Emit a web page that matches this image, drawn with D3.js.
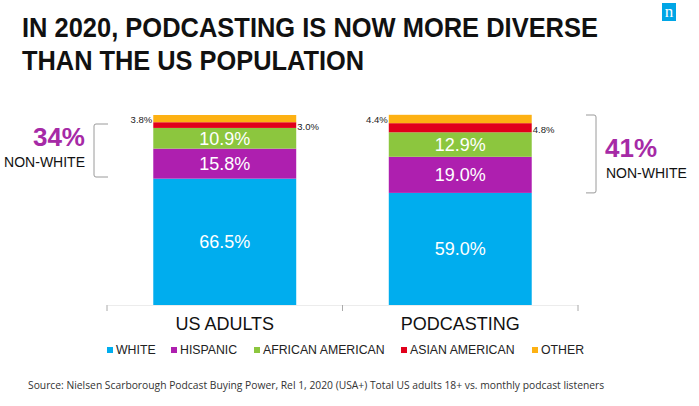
<!DOCTYPE html>
<html>
<head>
<meta charset="utf-8">
<script src="https://cdn.jsdelivr.net/npm/d3@7"></script>
<style>
  html, body { margin: 0; padding: 0; background: #fff; }
  svg { display: block; }
</style>
</head>
<body>
<div id="chart"></div>
<script>
// ---- Data ----
const categories = ["US ADULTS", "PODCASTING"];
const seriesNames = ["WHITE", "HISPANIC", "AFRICAN AMERICAN", "ASIAN AMERICAN", "OTHER"];
const white = [66.5, 59.0];
const hispanic = [15.8, 19.0];
const africanAmerican = [10.9, 12.9];
const asianAmerican = [3.0, 4.8];
const other = [3.8, 4.4];
const nonWhiteTotals = ["34%", "41%"];
const nonWhiteLabel = "NON-WHITE";
const titleLines = ["IN 2020, PODCASTING IS NOW MORE DIVERSE", "THAN THE US POPULATION"];
const sourceText = "Source: Nielsen Scarborough Podcast Buying Power, Rel 1, 2020 (USA+) Total US adults 18+ vs. monthly podcast listeners";

const colors = ["#00adee", "#ae1faf", "#8cc63e", "#e1001b", "#fdb113"];

const W = 699, H = 406;
const svg = d3.select("#chart").append("svg").attr("width", W).attr("height", H);
const FONT = "'Liberation Sans', Arial, sans-serif";

// table built from the arrays
const seriesArrays = [white, hispanic, africanAmerican, asianAmerican, other];
const rows = categories.map((c, i) => {
  const r = { cat: c };
  seriesNames.forEach((s, j) => r[s] = seriesArrays[j][i]);
  return r;
});
const stacked = d3.stack().keys(seriesNames)(rows);

// scales
const axisLeft = 107, axisRight = 578, baseY = 305, topY = 115;
const x0 = d3.scaleBand().domain(categories).range([axisLeft, axisRight]).padding(0);
const xBar = d3.scaleBand().domain(categories).range([axisLeft, axisRight])
  .paddingInner(0.393).paddingOuter(0.1965);
const y = d3.scaleLinear().domain([0, 100]).range([baseY, topY]);
const color = d3.scaleOrdinal().domain(seriesNames).range(colors);

// ---- Title ----
svg.append("g").selectAll("text").data(titleLines).join("text")
  .attr("x", 22).attr("y", (d, i) => 37 + i * 33)
  .attr("font-family", "'Liberation Sans Narrow', 'Arial Narrow', 'Liberation Sans', sans-serif")
  .attr("font-weight", "bold").attr("font-size", 28).attr("fill", "#111")
  .attr("textLength", (d, i) => i === 0 ? 576 : 342)
  .attr("lengthAdjust", "spacingAndGlyphs")
  .text(d => d);

// ---- Logo ----
const logo = svg.append("g");
logo.append("rect").attr("x", 662).attr("y", 3).attr("width", 14).attr("height", 18).attr("fill", "#00a6e6");
logo.append("text").attr("x", 669).attr("y", 17).attr("text-anchor", "middle")
  .attr("font-family", "'Liberation Serif', serif").attr("font-size", 17).attr("fill", "#fff").text("n");

// ---- Bars ----
const gBars = svg.append("g");
stacked.forEach((layer, li) => {
  gBars.append("g").attr("fill", color(layer.key))
    .selectAll("rect").data(layer).join("rect")
    .attr("x", d => xBar(d.data.cat))
    .attr("width", xBar.bandwidth())
    .attr("y", d => y(d[1]))
    .attr("height", d => y(d[0]) - y(d[1]));
});

// inside labels (first three series)
stacked.slice(0, 3).forEach(layer => {
  gBars.append("g").selectAll("text").data(layer).join("text")
    .attr("x", d => xBar(d.data.cat) + xBar.bandwidth() / 2)
    .attr("y", d => (y(d[0]) + y(d[1])) / 2)
    .attr("dy", "0.35em")
    .attr("text-anchor", "middle")
    .attr("font-family", FONT).attr("font-size", 18).attr("fill", "#fff")
    .text(d => (d[1] - d[0]).toFixed(1) + "%");
});

// small outside labels: OTHER on the left, ASIAN AMERICAN on the right
const otherLayer = stacked[4], asianLayer = stacked[3];
gBars.append("g").selectAll("text").data(otherLayer).join("text")
  .attr("x", d => xBar(d.data.cat) - 1)
  .attr("y", d => (y(d[0]) + y(d[1])) / 2 + 1)
  .attr("dy", "0.35em").attr("text-anchor", "end")
  .attr("font-family", FONT).attr("font-size", 9.5).attr("fill", "#222")
  .text(d => (d[1] - d[0]).toFixed(1) + "%");
gBars.append("g").selectAll("text").data(asianLayer).join("text")
  .attr("x", d => xBar(d.data.cat) + xBar.bandwidth() + 1)
  .attr("y", d => (y(d[0]) + y(d[1])) / 2 + 2)
  .attr("dy", "0.35em").attr("text-anchor", "start")
  .attr("font-family", FONT).attr("font-size", 9.5).attr("fill", "#222")
  .text(d => (d[1] - d[0]).toFixed(1) + "%");

// ---- Axis ----
const axis = svg.append("g").attr("transform", `translate(0,${baseY})`)
  .call(d3.axisBottom(x0).tickSize(0).tickSizeOuter(0).tickPadding(12));
axis.select(".domain").attr("stroke", "#ececec");
axis.selectAll("text").attr("font-family", FONT).attr("font-size", 18).attr("fill", "#111");
const boundaries = [x0(categories[0]), x0(categories[1]), x0(categories[1]) + x0.bandwidth()];
svg.append("g").selectAll("line").data(boundaries).join("line")
  .attr("x1", d => d).attr("x2", d => d)
  .attr("y1", baseY).attr("y2", baseY + 6)
  .attr("stroke", "#aaa").attr("stroke-width", 1);

// ---- Brackets and non-white callouts ----
const purple = "#a62aa6";
// left bracket (US adults)
const lb = { x: 94, arm: 14, y1: 124, y2: 177 };
svg.append("path")
  .attr("d", `M${lb.x + lb.arm},${lb.y1} L${lb.x + 2},${lb.y1} Q${lb.x},${lb.y1} ${lb.x},${lb.y1 + 2} L${lb.x},${lb.y2 - 2} Q${lb.x},${lb.y2} ${lb.x + 2},${lb.y2} L${lb.x + lb.arm},${lb.y2}`)
  .attr("fill", "none").attr("stroke", "#9a9a9a").attr("stroke-width", 1);
// right bracket (Podcasting)
const rb = { x: 596, arm: 10, y1: y(100), y2: y(white[1]) };
svg.append("path")
  .attr("d", `M${rb.x - rb.arm},${rb.y1} L${rb.x - 2},${rb.y1} Q${rb.x},${rb.y1} ${rb.x},${rb.y1 + 2} L${rb.x},${rb.y2 - 2} Q${rb.x},${rb.y2} ${rb.x - 2},${rb.y2} L${rb.x - rb.arm},${rb.y2}`)
  .attr("fill", "none").attr("stroke", "#9a9a9a").attr("stroke-width", 1);

svg.append("text").attr("x", 85).attr("y", 146).attr("text-anchor", "end")
  .attr("font-family", FONT).attr("font-weight", "bold").attr("font-size", 26).attr("fill", purple)
  .text(nonWhiteTotals[0]);
svg.append("text").attr("x", 85).attr("y", 167).attr("text-anchor", "end")
  .attr("font-family", FONT).attr("font-size", 14).attr("fill", "#111")
  .text(nonWhiteLabel);
svg.append("text").attr("x", 605).attr("y", 157).attr("text-anchor", "start")
  .attr("font-family", FONT).attr("font-weight", "bold").attr("font-size", 26).attr("fill", purple)
  .text(nonWhiteTotals[1]);
svg.append("text").attr("x", 606).attr("y", 178).attr("text-anchor", "start")
  .attr("font-family", FONT).attr("font-size", 14).attr("fill", "#111")
  .text(nonWhiteLabel);

// ---- Legend ----
const legendX = [107, 171, 254, 401, 532];
const legend = svg.append("g").selectAll("g").data(seriesNames).join("g")
  .attr("transform", (d, i) => `translate(${legendX[i]},350)`);
legend.append("rect").attr("x", 0).attr("y", -3).attr("width", 6).attr("height", 6)
  .attr("fill", d => color(d));
legend.append("text").attr("x", 9).attr("y", 0).attr("dy", "0.35em")
  .attr("font-family", FONT).attr("font-size", 12.3).attr("fill", "#222")
  .text(d => d);

// ---- Source ----
svg.append("text").attr("x", 28).attr("y", 389)
  .attr("font-family", "'Open Sans', sans-serif").attr("font-size", 10.3).attr("fill", "#333")
  .text(sourceText);
</script>
</body>
</html>
